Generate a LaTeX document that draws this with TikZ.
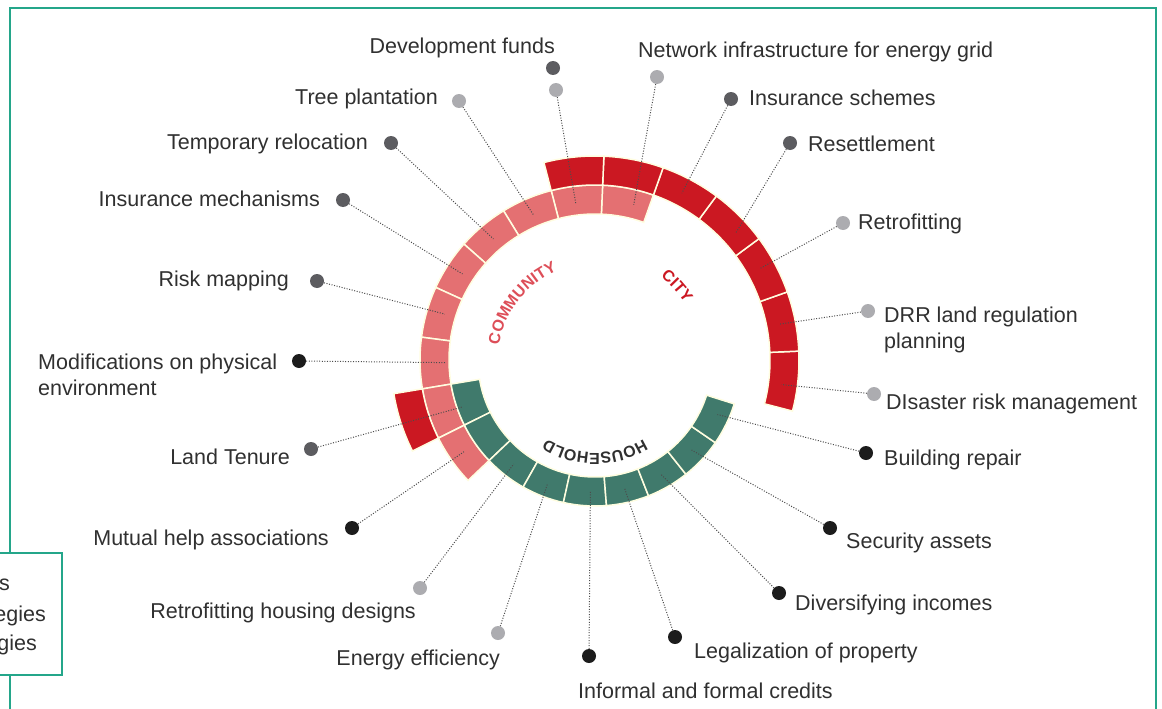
\documentclass[tikz,border=0pt]{standalone}
\usepackage{fontspec}
\setmainfont{Liberation Sans}
\usetikzlibrary{decorations.text}
\definecolor{cityred}{RGB}{203,24,34}
\definecolor{commpink}{RGB}{228,112,114}
\definecolor{commtext}{RGB}{221,78,88}
\definecolor{homegreen}{RGB}{64,122,108}
\definecolor{framegreen}{RGB}{36,166,138}
\definecolor{dotblack}{RGB}{28,28,28}
\definecolor{dotdark}{RGB}{92,92,96}
\definecolor{dotlight}{RGB}{172,172,176}
\definecolor{labelgray}{RGB}{48,48,48}

\begin{document}
\begin{tikzpicture}[x=1pt, y=1pt,
  seg/.style={draw=white!88!yellow, line width=1.5pt},
  dot/.style={circle, inner sep=0pt, minimum size=14pt},
  link/.style={draw=black!70, line width=1pt, dash pattern=on 1pt off 1.6pt},
  labeltext/.style={font=\fontsize{21.5}{26}\selectfont, text=labelgray, inner sep=0pt, align=left},
  ringtext/.style={decorate, decoration={text along path, text align=center, text={#1}}}
]
\useasboundingbox (0,0) rectangle (1162,-709);

%% Frame
\draw[framegreen, line width=1.2pt] (10,-709) -- (10,-8) -- (1156,-8) -- (1156,-709);

%% Rings (household inside, community in the middle, city outside)
\begin{scope}[shift={(595,-360)}]
\coordinate (c) at (0,0);
\foreach \a in {70.5,87.5,104.5,121.5,138.5,155.5,172.5,189.5,206.5} {
  \filldraw[seg, fill=commpink] (\a:146) arc[start angle=\a, delta angle=17, radius=146]
    -- ({\a+17}:175) arc[start angle={\a+17}, delta angle=-17, radius=175] -- cycle;
}
\foreach \a in {189.5,206.5,223.5,240.5,257.5,274.5,291.5,308.5,325.5} {
  \filldraw[seg, fill=homegreen] (\a:117) arc[start angle=\a, delta angle=17, radius=117]
    -- ({\a+17}:146) arc[start angle={\a+17}, delta angle=-17, radius=146] -- cycle;
}
\foreach \a in {-14.5,2.5,19.5,36.5,53.5,70.5,87.5,189.5} {
  \filldraw[seg, fill=cityred] (\a:175) arc[start angle=\a, delta angle=17, radius=175]
    -- ({\a+17}:204) arc[start angle={\a+17}, delta angle=-17, radius=204] -- cycle;
}

%% Ring names
\path[ringtext={|\color{commtext}\bfseries\fontsize{16}{16}\selectfont|COMMUNITY}]
  (182:97) arc[start angle=182, end angle=102, radius=97];
\path[ringtext={|\color{cityred}\bfseries\fontsize{16}{16}\selectfont|CITY}]
  (72:106) arc[start angle=72, end angle=12, radius=106];
\path[ringtext={|\color{labelgray}\bfseries\fontsize{16}{16}\selectfont|HOUSEHOLD}]
  (310:93) arc[start angle=310, end angle=230, radius=93];

%% Link ends
\coordinate (t-devfunds) at (97:158);
\coordinate (t-network) at (76:160);
\coordinate (t-inssch) at (62.5:188);
\coordinate (t-resettle) at (42:189);
\coordinate (t-retrofit) at (29:189);
\coordinate (t-drr) at (11:188);
\coordinate (t-disaster) at (-7.5:188);
\coordinate (t-building) at (-24:134);
\coordinate (t-security) at (-43:132);
\coordinate (t-divers) at (-60:132);
\coordinate (t-legal) at (-77:132);
\coordinate (t-credits) at (-92:132);
\coordinate (t-energy) at (-111:132);
\coordinate (t-rethouse) at (-128:132);
\coordinate (t-mutual) at (215:160);
\coordinate (t-tenure) at (199.5:140);
\coordinate (t-modif) at (181:150);
\coordinate (t-riskmap) at (163:157);
\coordinate (t-insmech) at (147:158);
\coordinate (t-temprel) at (130:158);
\coordinate (t-tree) at (113:158);
\end{scope}

%% Dots
\node[dot, fill=dotdark] (d-devfunds0) at (553,-68) {};
\node[dot, fill=dotlight] (d-devfunds) at (556,-90) {};
\node[dot, fill=dotlight] (d-network) at (657,-77) {};
\node[dot, fill=dotdark] (d-inssch) at (731,-99) {};
\node[dot, fill=dotdark] (d-resettle) at (790,-143) {};
\node[dot, fill=dotlight] (d-retrofit) at (843,-223) {};
\node[dot, fill=dotlight] (d-drr) at (868,-311) {};
\node[dot, fill=dotlight] (d-disaster) at (874,-394) {};
\node[dot, fill=dotblack] (d-building) at (866,-453) {};
\node[dot, fill=dotblack] (d-security) at (830,-528) {};
\node[dot, fill=dotblack] (d-divers) at (779,-593) {};
\node[dot, fill=dotblack] (d-legal) at (675,-637) {};
\node[dot, fill=dotblack] (d-credits) at (589,-656) {};
\node[dot, fill=dotlight] (d-energy) at (498,-633) {};
\node[dot, fill=dotlight] (d-rethouse) at (420,-588) {};
\node[dot, fill=dotblack] (d-mutual) at (352,-528) {};
\node[dot, fill=dotdark] (d-tenure) at (311,-449) {};
\node[dot, fill=dotblack] (d-modif) at (299,-361) {};
\node[dot, fill=dotdark] (d-riskmap) at (317,-281) {};
\node[dot, fill=dotdark] (d-insmech) at (343,-200) {};
\node[dot, fill=dotdark] (d-temprel) at (391,-143) {};
\node[dot, fill=dotlight] (d-tree) at (459,-101) {};

%% Links
\foreach \n in {devfunds,network,inssch,resettle,retrofit,drr,disaster,building,security,divers,legal,credits,energy,rethouse,mutual,tenure,modif,riskmap,insmech,temprel,tree}
  \draw[link] (d-\n) -- (t-\n);

%% Labels
\node[labeltext, anchor=base east] (l-devfunds) at (555,-54) {Development funds};
\node[labeltext, anchor=base west] (l-network) at (638,-58) {Network infrastructure for energy grid};
\node[labeltext, anchor=base west] (l-inssch) at (749,-106) {Insurance schemes};
\node[labeltext, anchor=base west] (l-resettle) at (808,-151) {Resettlement};
\node[labeltext, anchor=base west] (l-retrofit) at (858,-229) {Retrofitting};
\node[labeltext, anchor=north west] (l-drr) at (884,-306.5) {DRR land regulation\\planning};
\node[labeltext, anchor=base west] (l-disaster) at (886,-409) {DIsaster risk management};
\node[labeltext, anchor=base west] (l-building) at (884,-465) {Building repair};
\node[labeltext, anchor=base west] (l-security) at (846,-548) {Security assets};
\node[labeltext, anchor=base west] (l-divers) at (795,-610) {Diversifying incomes};
\node[labeltext, anchor=base west] (l-legal) at (694,-658) {Legalization of property};
\node[labeltext, anchor=base west] (l-credits) at (578,-698) {Informal and formal credits};
\node[labeltext, anchor=base east] (l-energy) at (500,-665) {Energy efficiency};
\node[labeltext, anchor=base east] (l-rethouse) at (416,-618) {Retrofitting housing designs};
\node[labeltext, anchor=base east] (l-mutual) at (329,-545) {Mutual help associations};
\node[labeltext, anchor=base east] (l-tenure) at (290,-464) {Land Tenure};
\node[labeltext, anchor=north west] (l-modif) at (38,-353.5) {Modifications on physical\\environment};
\node[labeltext, anchor=base east] (l-riskmap) at (289,-286) {Risk mapping};
\node[labeltext, anchor=base east] (l-insmech) at (320,-206) {Insurance mechanisms};
\node[labeltext, anchor=base east] (l-temprel) at (368,-149) {Temporary relocation};
\node[labeltext, anchor=base east] (l-tree) at (438,-104) {Tree plantation};

%% Legend box (cut at the left edge)
\filldraw[draw=framegreen, fill=white, line width=1.2pt] (-5,-553) rectangle (62,-675);
\node[labeltext, anchor=base east] (g-1) at (10,-590) {s};
\node[labeltext, anchor=base east] (g-2) at (46,-621) {egies};
\node[labeltext, anchor=base east] (g-3) at (37,-650) {gies};
\end{tikzpicture}
\end{document}
